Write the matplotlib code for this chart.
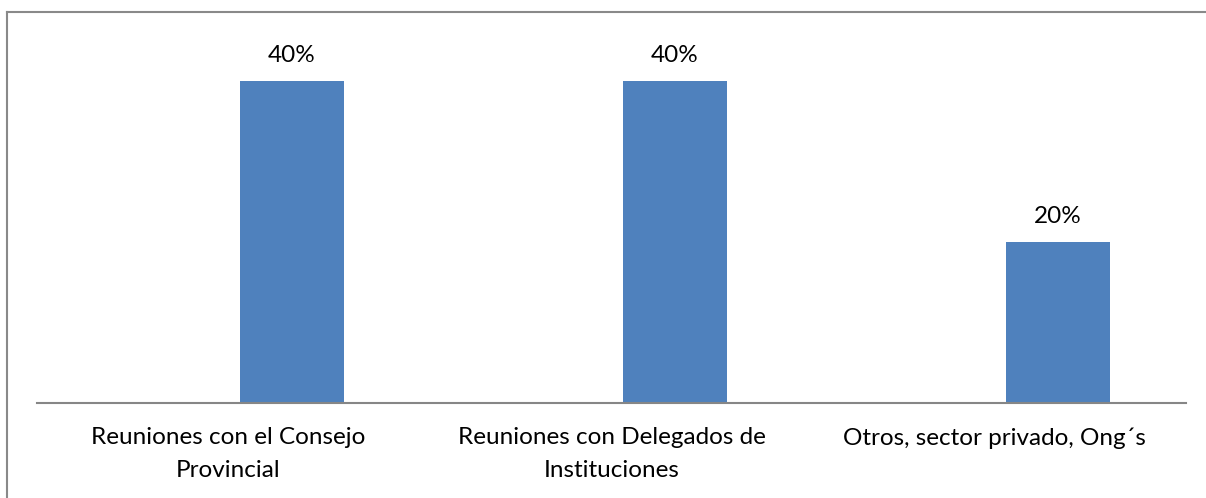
import matplotlib
matplotlib.use("Agg")
import matplotlib.pyplot as plt
from matplotlib.lines import Line2D

categories = ["Reuniones con el Consejo\nProvincial",
              "Reuniones con Delegados de\nInstituciones",
              "Otros, sector privado, Ong´s"]
values = [0.40, 0.40, 0.20]
value_labels = ["40%", "40%", "20%"]

W, H = 1206, 498
fig = plt.figure(figsize=(W / 100, H / 100), dpi=100)
plt.rcParams['font.family'] = ['Lato', 'DejaVu Sans']

left, right = 37, 1186
base, top = 403, 40.75
ax = fig.add_axes([left / W, (H - base) / H, (right - left) / W, (base - top) / H])

x = list(range(len(categories)))
offset = 0.166
width = 0.2716
bars = ax.bar([i + offset for i in x], values, width=width, color="#4F81BD")
for b, lab in zip(bars, value_labels):
    ax.annotate(lab, (b.get_x() + b.get_width() / 2, b.get_height()),
                xytext=(0, 10.5), textcoords="offset points",
                ha="center", va="bottom", fontsize=17.5, color="black")

ax.set_xlim(-0.5, len(categories) - 0.5)
ax.set_ylim(0, 0.45)
ax.set_xticks(x)
ax.set_xticklabels(categories, fontsize=17.5, linespacing=1.68)
ax.tick_params(axis="x", length=0, pad=17.5)
ax.set_yticks([])
for s in ["top", "right", "left"]:
    ax.spines[s].set_visible(False)
ax.spines["bottom"].set_color("#868686")
ax.spines["bottom"].set_linewidth(1.5)

# outer frame (top and left edges visible)
fig.add_artist(Line2D([7 / W, 1.0], [1 - 12 / H, 1 - 12 / H], transform=fig.transFigure,
                      color="#898989", linewidth=1.5))
fig.add_artist(Line2D([7 / W, 7 / W], [0, 1 - 12 / H], transform=fig.transFigure,
                      color="#898989", linewidth=1.5))

fig.savefig("out.png", dpi=100, facecolor="white")
